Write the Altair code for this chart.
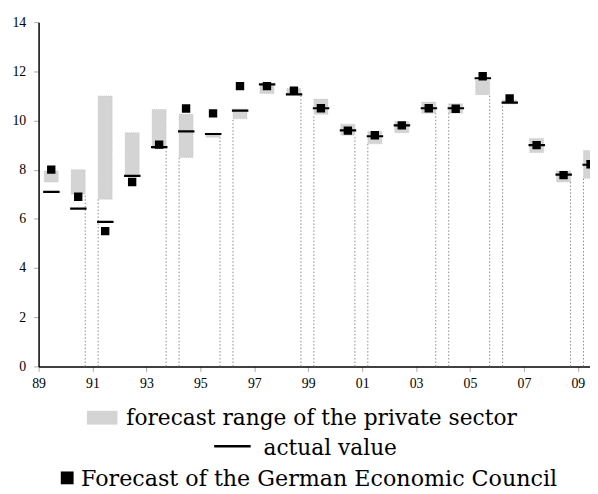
import altair as alt
import pandas as pd

# ---- data ----
years = list(range(1989, 2010))
range_low = [7.5, 7.0, 6.8, 7.75, 8.85, 8.5, 9.32, 10.07, 11.1, 11.05, 10.25,
             9.4, 9.05, 9.5, 10.3, 10.3, 11.05, 10.67, 8.7, 7.5, 7.65]
range_high = [7.95, 8.0, 11.0, 9.5, 10.45, 10.25, 9.48, 10.47, 11.45, 11.3, 10.87,
              9.85, 9.55, 9.95, 10.75, 10.68, 11.63, 10.83, 9.27, 7.95, 8.78]
actual = [7.1, 6.42, 5.88, 7.75, 8.92, 9.56, 9.45, 10.4, 11.47, 11.06, 10.5,
          9.6, 9.36, 9.8, 10.5, 10.5, 11.72, 10.73, 9.0, 7.8, 8.2]
council = [8.0, 6.9, 5.5, 7.5, 9.02, 10.49, 10.29, 11.4, 11.4, 11.21, 10.5,
           9.59, 9.4, 9.8, 10.5, 10.48, 11.8, 10.9, 9.0, 7.78, 8.22]
tick_years = list(range(1989, 2010, 2))
right_edge_years = [1990, 1993, 1995, 1998, 2000, 2003, 2005, 2008]
left_edge_years = [1991, 1994, 1996, 1999, 2001, 2004, 2006, 2009]
legend_labels = ["forecast range of the private sector", "actual value",
                 "Forecast of the German Economic Council"]

df = pd.DataFrame({"year": years, "low": range_low, "high": range_high,
                   "actual": actual, "council": council})
df["bx"] = df["year"] + 0.21
df["bx2"] = df["year"] + 0.73
df["cx"] = df["year"] + 0.47
df["lx"] = df["year"] + 0.17
df["lx2"] = df["year"] + 0.78

low_by_year = dict(zip(years, range_low))
div = pd.DataFrame(
    [{"dx": y + 0.73, "top": low_by_year[y], "zero": 0} for y in right_edge_years]
    + [{"dx": y + 0.21, "top": low_by_year[y], "zero": 0} for y in left_edge_years]
)

SERIF = "Liberation Serif"
LEG_FONT = "DejaVu Serif"

xscale = alt.Scale(domain=[1989, 2009.45], nice=False, zero=False)
yscale = alt.Scale(domain=[0, 14], nice=False)
xaxis = alt.Axis(values=tick_years, labelExpr="format(datum.value % 100, '02d')",
                 title=None, grid=False, domainColor="black", domainWidth=1.5,
                 tickColor="#aaaaaa", tickSize=5, labelFont=SERIF, labelFontSize=14,
                 labelColor="black", labelPadding=5, labelFlush=False)
yaxis = alt.Axis(values=list(range(0, 15, 2)), title=None, grid=False,
                 domainColor="black", domainWidth=1.5, tickColor="#aaaaaa",
                 tickSize=5, labelFont=SERIF, labelFontSize=14, labelColor="black",
                 labelPadding=8, labelFlush=False)

base = alt.Chart(df)

dividers = alt.Chart(div).mark_rule(color="#888888", strokeWidth=1,
                                    strokeDash=[1.5, 2]).encode(
    x=alt.X("dx:Q", scale=xscale, axis=xaxis),
    y=alt.Y("zero:Q", scale=yscale, axis=yaxis),
    y2="top:Q",
)

ranges = base.mark_rect(fill="#d4d4d4", stroke="#bdbdbd", strokeWidth=0.6,
                        strokeDash=[1, 1], clip=True).encode(
    x=alt.X("bx:Q", scale=xscale, axis=xaxis),
    x2="bx2:Q",
    y=alt.Y("low:Q", scale=yscale, axis=yaxis),
    y2="high:Q",
)

actual_lines = base.mark_rule(color="black", strokeWidth=2.2, clip=True).encode(
    x=alt.X("lx:Q", scale=xscale, axis=xaxis),
    x2="lx2:Q",
    y=alt.Y("actual:Q", scale=yscale, axis=yaxis),
)

squares = base.mark_square(size=72, color="black", opacity=1, clip=True).encode(
    x=alt.X("cx:Q", scale=xscale, axis=xaxis),
    y=alt.Y("council:Q", scale=yscale, axis=yaxis),
)

# ---- custom legend below the plot ----
one = pd.DataFrame({"k": [0]})
leg_swatch = alt.Chart(one).mark_rect(fill="#d4d4d4").encode(
    x=alt.value(49), x2=alt.value(80), y=alt.value(394), y2=alt.value(408))
leg_dash = alt.Chart(one).mark_rule(color="black", strokeWidth=2.5).encode(
    x=alt.value(178), x2=alt.value(215), y=alt.value(430))
leg_square = alt.Chart(one).mark_square(size=169, color="black", opacity=1).encode(
    x=alt.value(29), y=alt.value(462))


def leg_text(label, x, y, size=22):
    return alt.Chart(pd.DataFrame({"t": [label]})).mark_text(
        font=LEG_FONT, fontSize=size, align="left", baseline="alphabetic",
        color="black").encode(text="t:N", x=alt.value(x), y=alt.value(y))


t1 = leg_text(legend_labels[0], 89, 408)
t2 = leg_text(legend_labels[1], 228, 439)
t3 = leg_text(legend_labels[2], 43, 470, 22.5)

chart = alt.layer(
    dividers, ranges, actual_lines, squares,
    leg_swatch, leg_dash, leg_square, t1, t2, t3,
).properties(
    width=559, height=349,
    autosize=alt.AutoSizeParams(type="none"),
    padding={"left": 31, "top": 11, "right": 0, "bottom": 126},
    background="white",
).configure_view(stroke=None)

chart.save("out.html", embed_options={"renderer": "svg", "actions": False})
